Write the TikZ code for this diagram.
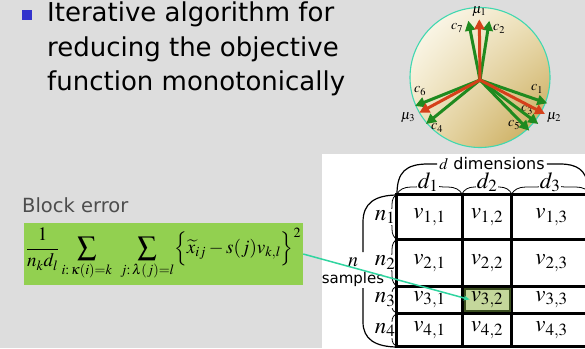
\documentclass[tikz,border=0pt]{standalone}
\usepackage{mathptmx}
\usepackage[no-math]{fontspec}
\setmainfont{DejaVu Sans}
\usetikzlibrary{arrows.meta,decorations.pathreplacing,shadings}
\definecolor{SlideGray}{HTML}{DDDDDD}
\definecolor{BulletBlue}{HTML}{3333CC}
\definecolor{BlockGray}{HTML}{4D4D4D}
\definecolor{BoxGreen}{HTML}{92D050}
\definecolor{LinkTeal}{HTML}{30D5A0}
\definecolor{RimTeal}{HTML}{40D8B0}
\definecolor{BallLight}{HTML}{FFFEF8}
\definecolor{BallMid}{HTML}{EDE0B8}
\definecolor{BallDark}{HTML}{C4A24A}
\definecolor{MeanRed}{HTML}{D5401A}
\definecolor{PointGreen}{HTML}{1F8A1F}
\definecolor{CellGreen}{HTML}{C4D79B}
\definecolor{CellEdge}{HTML}{3B4F1F}

\begin{document}
\begin{tikzpicture}[x=1pt,y=-1pt,
    bullettext/.style={anchor=base west,inner sep=0pt,
      font=\fontsize{26}{30}\selectfont},
    meanarrow/.style={MeanRed,line width=3pt,
      -{Triangle[length=10pt,width=10pt]}},
    pointarrow/.style={PointGreen,line width=3pt,
      -{Triangle[length=10pt,width=10pt]}},
    balllabel/.style={inner sep=0pt,font=\fontsize{14}{14}\selectfont},
    cellvalue/.style={inner sep=1pt,font=\fontsize{23}{23}\selectfont},
    headlabel/.style={fill=white,inner sep=1pt,font=\fontsize{23}{23}\selectfont},
    gridline/.style={black,line width=3pt},
    bracket/.style={black,line width=1.2pt},
    smallbrace/.style={black,line width=0.8pt,decorate}]

  \fill[SlideGray] (0,0) rectangle (585,348);
  \useasboundingbox (0,0) rectangle (585,348);

  \node (bullet) [fill=BulletBlue,minimum size=10pt,inner sep=0pt] at (27,14.5) {};
  \node (line1) [bullettext] at (47,21) {Iterative algorithm for};
  \node (line2) [bullettext] at (47,56) {reducing the objective};
  \node (line3) [bullettext] at (47,90) {function monotonically};

  \shade[upper left=BallLight,upper right=BallMid,lower left=BallMid,
    lower right=BallDark] (480,77.5) circle[radius=70pt];
  \draw[RimTeal,line width=1.1pt] (480,77.5) circle[radius=70pt];

  \coordinate (o) at (480,80);
  \coordinate (mu1) at (479.3,19.3);
  \coordinate (mu2) at (545,114);
  \coordinate (mu3) at (419.3,112.7);
  \coordinate (c1) at (547.3,103.3);
  \coordinate (c2) at (489.3,20.7);
  \coordinate (c3) at (538.3,124);
  \coordinate (c4) at (426,124);
  \coordinate (c5) at (529.3,130.7);
  \coordinate (c6) at (415,106);
  \coordinate (c7) at (468.3,20.7);

  \node (lmu1) [balllabel] at (479.3,12) {$\mu_1$};
  \node (lmu2) [balllabel] at (554,118) {$\mu_2$};
  \node (lmu3) [balllabel] at (408,118) {$\mu_3$};
  \node (lc1) [balllabel] at (537,89) {$c_1$};
  \node (lc2) [balllabel] at (499,29) {$c_2$};
  \node (lc3) [balllabel] at (527,110) {$c_3$};
  \node (lc4) [balllabel] at (437,128) {$c_4$};
  \node (lc5) [balllabel] at (514,125) {$c_5$};
  \node (lc6) [balllabel] at (420,91) {$c_6$};
  \node (lc7) [balllabel] at (457,28) {$c_7$};

  \draw[pointarrow] (o) -- (c7);
  \draw[pointarrow] (o) -- (c2);
  \draw[pointarrow] (o) -- (c1);
  \draw[pointarrow] (o) -- (c3);
  \draw[pointarrow] (o) -- (c5);
  \draw[pointarrow] (o) -- (c6);
  \draw[pointarrow] (o) -- (c4);
  \draw[meanarrow] (o) -- (mu1);
  \draw[meanarrow] (o) -- (mu2);
  \draw[meanarrow] (o) -- (mu3);

  \node (block) [anchor=base west,inner sep=0pt,text=BlockGray,
    font=\fontsize{19.5}{22}\selectfont] at (22,212) {Block error};
  \node (formula) [fill=BoxGreen,minimum width=279pt,minimum height=62pt,
    inner sep=0pt,font=\fontsize{19}{22}\selectfont] at (163.5,254)
    {$\displaystyle\frac{1}{n_k d_l}\sum_{i:\,\kappa(i)=k}\ \sum_{j:\,\lambda(j)=l}
      \Bigl\{\widetilde{x}_{ij}-s(j)v_{k,l}\Bigr\}^2$};

  \fill[white] (322,154) rectangle (585,348);
  \fill[CellGreen] (462,286) rectangle (512,313);

  \draw[smallbrace,decoration={brace,amplitude=14pt}] (397,194) -- (462,194);
  \draw[smallbrace,decoration={brace,amplitude=14pt}] (462,194) -- (511.7,194);
  \draw[smallbrace,decoration={brace,amplitude=14pt}] (511.7,194) -- (590,194);
  \draw[smallbrace,decoration={brace,amplitude=10pt}] (397,239.3) -- (397,194.3);
  \draw[smallbrace,decoration={brace,amplitude=10pt}] (397,286) -- (397,239.3);
  \draw[smallbrace,decoration={brace,amplitude=10pt}] (397,313.3) -- (397,286);
  \draw[smallbrace,decoration={brace,amplitude=10pt}] (397,346.7) -- (397,313.3);

  \node (d1) [headlabel] at (428,182) {$d_1$};
  \node (d2) [headlabel] at (487,182) {$d_2$};
  \node (d3) [headlabel] at (550,182) {$d_3$};
  \node (n1) [headlabel] at (385,216.8) {$n_1$};
  \node (n2) [headlabel] at (385,262.7) {$n_2$};
  \node (n3) [headlabel] at (385,299.7) {$n_3$};
  \node (n4) [headlabel] at (385,330) {$n_4$};

  \node (ddim) [fill=white,inner sep=2pt,font=\fontsize{16}{16}\selectfont]
    at (492,164) {$d$ dimensions};
  \draw[bracket] (397,194) .. controls (397,172) and (406,164) .. (428,164)
    -- (ddim.west);
  \draw[bracket] (ddim.east) -- (560,164) .. controls (577,164) and (586,170)
    .. (588,186);

  \node (nlab) [inner sep=0pt,font=\fontsize{20}{20}\selectfont] at (353,262) {$n$};
  \node (samples) [inner sep=0pt,font=\fontsize{15}{15}\selectfont] at (353,279) {samples};
  \draw[bracket] (398,195) .. controls (375,195) and (363,203) .. (363,222)
    -- (363,252);
  \draw[bracket] (363,288) -- (363,322) .. controls (363,339) and (375,347)
    .. (398,347);

  \draw[gridline] (396.7,194.3) -- (585,194.3);
  \draw[gridline] (396.7,239.3) -- (585,239.3);
  \draw[gridline] (396.7,286) -- (585,286);
  \draw[gridline] (396.7,313.3) -- (585,313.3);
  \draw[gridline] (396.7,346.7) -- (585,346.7);
  \draw[gridline,line width=2.5pt] (396.7,193) -- (396.7,348);
  \draw[gridline] (462.3,193) -- (462.3,348);
  \draw[gridline] (511.7,193) -- (511.7,348);
  \draw[CellEdge,line width=2pt] (464.5,288.5) rectangle (510,311);

  \node (v11) [cellvalue] at (429.5,217) {$v_{1,1}$};
  \node (v12) [cellvalue] at (487,217) {$v_{1,2}$};
  \node (v13) [cellvalue] at (551.5,217) {$v_{1,3}$};
  \node (v21) [cellvalue] at (429.5,263) {$v_{2,1}$};
  \node (v22) [cellvalue] at (487,263) {$v_{2,2}$};
  \node (v23) [cellvalue] at (551.5,263) {$v_{2,3}$};
  \node (v31) [cellvalue] at (429.5,299.5) {$v_{3,1}$};
  \node (v32) [cellvalue] at (487,299.5) {$v_{3,2}$};
  \node (v33) [cellvalue] at (551.5,299.5) {$v_{3,3}$};
  \node (v41) [cellvalue] at (429.5,330) {$v_{4,1}$};
  \node (v42) [cellvalue] at (487,330) {$v_{4,2}$};
  \node (v43) [cellvalue] at (551.5,330) {$v_{4,3}$};

  \draw[LinkTeal,line width=1.5pt,-{Stealth[length=6pt,width=5pt]}]
    (formula.east) -- (v32.west);
\end{tikzpicture}
\end{document}
